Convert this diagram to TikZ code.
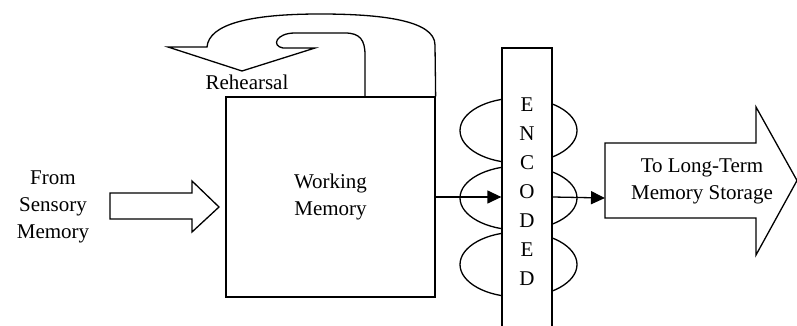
\documentclass[tikz,border=0pt]{standalone}
\usepackage{fontspec}
\setmainfont{Liberation Serif}
\usetikzlibrary{arrows.meta}

\begin{document}
\begin{tikzpicture}[x=1pt, y=-1pt, line width=1.3pt]
            \tikzset{txt/.style = {font=\fontsize{21}{27}\selectfont, align=center, inner sep=0pt}}
            \tikzset{box/.style = {shape=rectangle, draw, inner sep=0pt}}
            \tikzset{edge/.style = {-{Triangle[length=14pt,width=13pt]}}}
            \useasboundingbox (0,0) rectangle (797,326);
            % loops behind the band
            \draw (518.5,130.5) ellipse [x radius=58.5, y radius=32.5];
            \draw (518.5,198) ellipse [x radius=58.5, y radius=32];
            \draw (518.5,264.5) ellipse [x radius=58.5, y radius=32.5];
            % nodes
            \node[box, fill=white, minimum width=50pt, minimum height=292pt] (band) at (527,194) {};
            \node[txt, font=\fontsize{21}{29}\selectfont] (encoded) at (527,192) {E\\N\\C\\O\\D\\E\\D};
            \node[box, minimum width=209pt, minimum height=200pt, txt] (wm) at (330.5,197) {Working\\Memory};
            \node[txt] (sensory) at (53,207) {From\\Sensory\\Memory};
            \node[txt] (rehearsal) at (247,82) {Rehearsal};
            \node[txt] (ltm) at (702,181) {To Long-Term\\Memory Storage};
            \coordinate (ltm-in) at (605,198);
            % block arrows
            \draw (110,193) -- (192,193) -- (192,181) -- (219,207) -- (192,232) -- (192,219) -- (110,219) -- cycle;
            \draw (605,143) -- (756,143) -- (756,107) -- (797,180.5) -- (756,255) -- (756,218) -- (605,218) -- cycle;
            \draw (wm.north east) -- (435,45) .. controls (435,20) and (380,14) .. (320,14)
                .. controls (250,14) and (209,24) .. (207,47) -- (168,47) -- (242,71) -- (315,48) -- (283,48)
                .. controls (271,46) and (276,33) .. (295,33) -- (345,33)
                .. controls (360,33) and (365,40) .. (365,55) -- (365,97);
            % edges
            \draw[edge] (wm.east) -- (band.west |- wm.east);
            \draw[edge] (band.east |- wm.east) -- (ltm-in);
\end{tikzpicture}
\end{document}
